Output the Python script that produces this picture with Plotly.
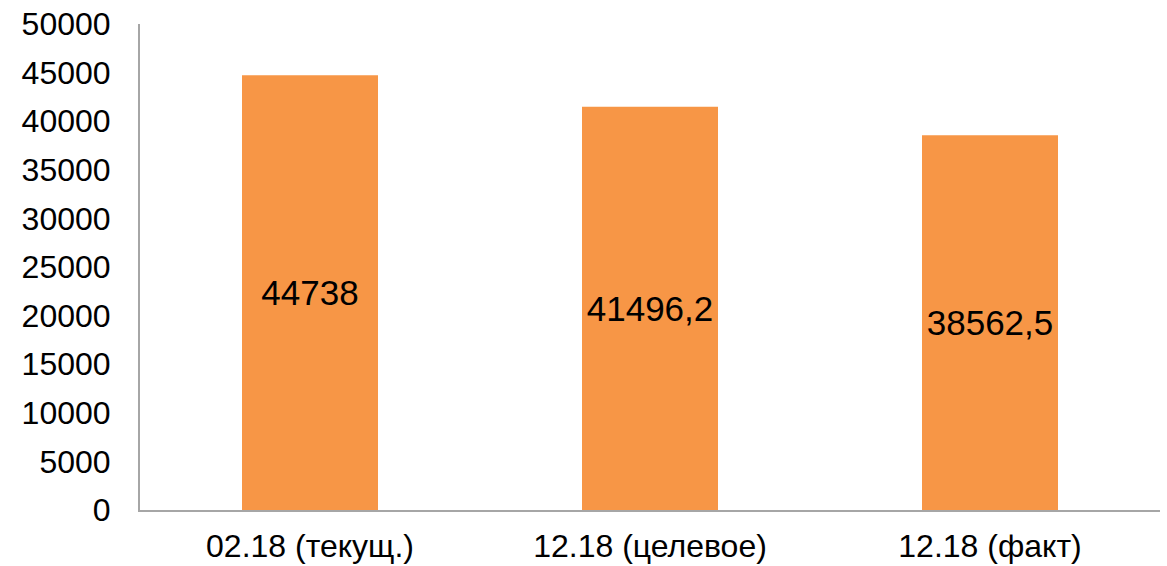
import plotly.graph_objects as go

categories = ["02.18 (текущ.)", "12.18 (целевое)", "12.18 (факт)"]
values = [44738, 41496.2, 38562.5]
value_labels = ["44738", "41496,2", "38562,5"]
y_ticks = list(range(0, 50001, 5000))

fig = go.Figure(
    go.Bar(
        x=categories,
        y=values,
        text=value_labels,
        textposition="inside",
        insidetextanchor="middle",
        textangle=0,
        textfont=dict(family="Liberation Sans, Arial", size=35, color="#000000"),
        marker=dict(color="#F79646", line=dict(width=0)),
        width=0.4,
        hoverinfo="skip",
    )
)

fig.update_layout(
    width=1167,
    height=566,
    margin=dict(l=140, r=7, t=24, b=56, autoexpand=False),
    paper_bgcolor="#FFFFFF",
    plot_bgcolor="#FFFFFF",
    showlegend=False,
    uniformtext=dict(mode=False),
    font=dict(family="Liberation Sans, Arial", color="#000000"),
)

fig.update_yaxes(
    range=[0, 50000],
    tickvals=y_ticks,
    ticktext=[str(v) for v in y_ticks],
    showgrid=False,
    zeroline=False,
    showline=True,
    linecolor="#A6A6A6",
    linewidth=2,
    ticks="",
    automargin=False,
    ticklabelstandoff=21,
    tickfont=dict(size=32),
)

fig.update_xaxes(
    showgrid=False,
    zeroline=False,
    showline=True,
    linecolor="#A6A6A6",
    linewidth=2,
    ticks="",
    automargin=False,
    ticklabelstandoff=7,
    tickfont=dict(size=32),
)

fig.write_html("out.html")
